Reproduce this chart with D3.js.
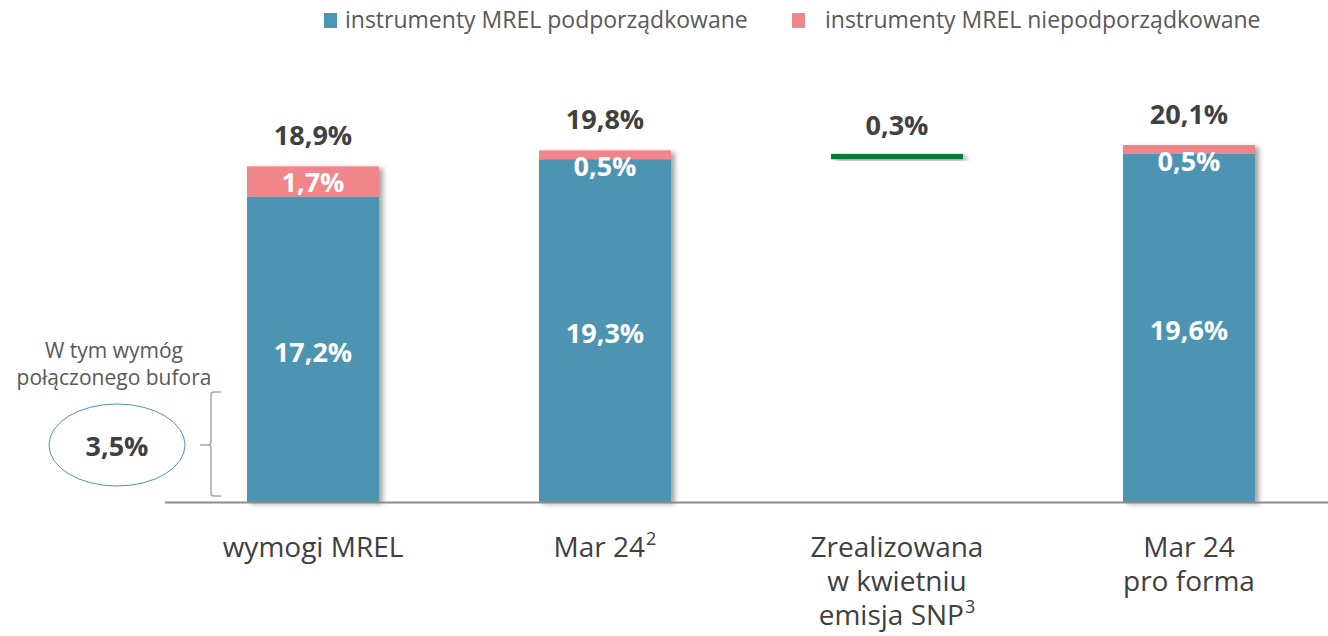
<!DOCTYPE html>
<html>
<head>
<meta charset="utf-8">
<script src="https://cdn.jsdelivr.net/npm/d3@7"></script>
<style>
  html, body { margin: 0; padding: 0; background: #fff; }
  svg { display: block; font-family: "Open Sans", sans-serif; }
</style>
</head>
<body>
<svg id="chart" width="1328" height="636"></svg>
<script>
// Categories (label lines, optional superscript on the last line)
const categories = ["wymogi MREL", "Mar 24", "Zrealizowana w kwietniu emisja SNP", "Mar 24 pro forma"];
const categoryLines = [["wymogi MREL"], ["Mar 24"], ["Zrealizowana", "w kwietniu", "emisja SNP"], ["Mar 24", "pro forma"]];
const categorySup = ["", "2", "3", ""];

// Stacked series (% of TREA); null where the category has no stacked bar
const subordinated = [17.2, 19.3, null, 19.6];
const nonSubordinated = [1.7, 0.5, null, 0.5];
const totals = [18.9, 19.8, null, 20.1];

// SNP issue: floating increment on top of the subordinated level of Mar 24
const snpBase = 19.3;
const snpValue = 0.3;

// Combined buffer requirement
const bufferValue = 3.5;

const seriesNames = ["instrumenty MREL podporządkowane", "instrumenty MREL niepodporządkowane"];
const colors = { sub: "#4e94b3", nonSub: "#f0868a", snp: "#007c3a", text: "#404040", soft: "#595959" };

const fmt = v => d3.format(".1f")(v).replace(".", ",") + "%";

const svg = d3.select("#chart");

// soft drop shadow behind bars
const defs = svg.append("defs");
const f = defs.append("filter").attr("id", "shadow").attr("x", "-10%").attr("y", "-10%").attr("width", "130%").attr("height", "130%");
f.append("feDropShadow").attr("dx", 4).attr("dy", 2).attr("stdDeviation", 2.5)
  .attr("flood-color", "#000").attr("flood-opacity", 0.35);

const x = d3.scaleBand().domain(categories).range([167, 1335]).paddingInner(0.548).paddingOuter(0.274);
const y = d3.scaleLinear().domain([0, 25]).range([502, 58]);

// ---- legend ----
const legend = svg.append("g");
const legendItems = [
  { name: seriesNames[0], color: colors.sub, sx: 324, tx: 345 },
  { name: seriesNames[1], color: colors.nonSub, sx: 792, tx: 825 }
];
legend.selectAll("rect").data(legendItems).join("rect")
  .attr("x", d => d.sx).attr("y", 13).attr("width", 13).attr("height", 15)
  .attr("fill", d => d.color);
legend.selectAll("text").data(legendItems).join("text")
  .attr("x", d => d.tx).attr("y", 28)
  .attr("font-size", 23).attr("fill", colors.soft)
  .text(d => d.name);

// ---- stacked bars ----
const rows = categories.map((c, i) => ({ c, sub: subordinated[i], non: nonSubordinated[i], total: totals[i] }))
  .filter(d => d.sub != null);

const bars = svg.append("g");
const barGroup = bars.selectAll("g").data(rows).join("g").attr("filter", "url(#shadow)");
barGroup.append("rect")
  .attr("x", d => x(d.c)).attr("width", x.bandwidth())
  .attr("y", d => y(d.sub)).attr("height", d => y(0) - y(d.sub))
  .attr("fill", colors.sub);
barGroup.append("rect")
  .attr("x", d => x(d.c)).attr("width", x.bandwidth())
  .attr("y", d => y(d.sub + d.non)).attr("height", d => y(d.sub) - y(d.sub + d.non))
  .attr("fill", colors.nonSub);

// SNP increment
const snpCat = categories[2];
svg.append("rect")
  .attr("x", x(snpCat)).attr("width", x.bandwidth())
  .attr("y", y(snpBase + snpValue)).attr("height", y(snpBase) - y(snpBase + snpValue))
  .attr("fill", colors.snp).attr("filter", "url(#shadow)");

// ---- axis line ----
svg.append("line")
  .attr("x1", 165).attr("x2", 1328).attr("y1", y(0) + 0.5).attr("y2", y(0) + 0.5)
  .attr("stroke", "#8c8c8c").attr("stroke-width", 2);

// ---- value labels ----
const labels = svg.append("g").attr("font-weight", 700).attr("font-size", 27).attr("text-anchor", "middle");

// segment labels (white)
labels.selectAll(".sub").data(rows).join("text").attr("class", "sub")
  .attr("x", d => x(d.c) + x.bandwidth() / 2)
  .attr("y", d => (y(0) + y(d.sub)) / 2 + 2)
  .attr("dominant-baseline", "central")
  .attr("fill", "#fff").text(d => fmt(d.sub));
labels.selectAll(".non").data(rows).join("text").attr("class", "non")
  .attr("x", d => x(d.c) + x.bandwidth() / 2)
  .attr("y", d => Math.max((y(d.sub) + y(d.sub + d.non)) / 2, y(d.sub + d.non) + 15))
  .attr("dominant-baseline", "central")
  .attr("fill", "#fff").text(d => fmt(d.non));

// totals above bars
labels.selectAll(".tot").data(rows).join("text").attr("class", "tot")
  .attr("x", d => x(d.c) + x.bandwidth() / 2)
  .attr("y", d => y(d.total) - 21)
  .attr("fill", colors.text).text(d => fmt(d.total));
labels.append("text")
  .attr("x", x(snpCat) + x.bandwidth() / 2)
  .attr("y", y(snpBase + snpValue) - 19)
  .attr("fill", colors.text).text(fmt(snpValue));

// ---- category labels ----
const cat = svg.append("g").attr("font-size", 28).attr("fill", colors.text).attr("text-anchor", "middle");
categories.forEach((c, i) => {
  const lines = categoryLines[i];
  const cx = x(c) + x.bandwidth() / 2;
  const t = cat.append("text").attr("x", cx).attr("y", 557);
  lines.forEach((ln, j) => {
    const isLast = j === lines.length - 1;
    t.append("tspan").attr("x", cx).attr("dy", j === 0 ? 0 : 34).text(ln);
    if (isLast && categorySup[i]) {
      t.append("tspan").attr("font-size", 18).attr("dy", -12).attr("dx", 1).text(categorySup[i]);
    }
  });
});

// ---- buffer annotation ----
const ann = svg.append("g");
ann.append("text").attr("x", 114).attr("y", 358).attr("text-anchor", "middle")
  .attr("font-size", 21).attr("fill", colors.soft).text("W tym wymóg");
ann.append("text").attr("x", 114).attr("y", 385).attr("text-anchor", "middle")
  .attr("font-size", 21).attr("fill", colors.soft).text("połączonego bufora");
ann.append("ellipse").attr("cx", 117).attr("cy", 445).attr("rx", 68).attr("ry", 41)
  .attr("fill", "none").attr("stroke", "#4e94b3").attr("stroke-width", 1);
ann.append("text").attr("x", 117).attr("y", 445).attr("text-anchor", "middle")
  .attr("dominant-baseline", "central").attr("font-size", 27).attr("font-weight", 700)
  .attr("fill", colors.text).text(fmt(bufferValue));
// brace
ann.append("path")
  .attr("d", "M221,392 H214 Q211,392 211,395 V442 Q211,445 208,445 H200 M208,445 Q211,445 211,448 V493 Q211,496 214,496 H221")
  .attr("fill", "none").attr("stroke", "#a6a6a6").attr("stroke-width", 1.5);
</script>
</body>
</html>
